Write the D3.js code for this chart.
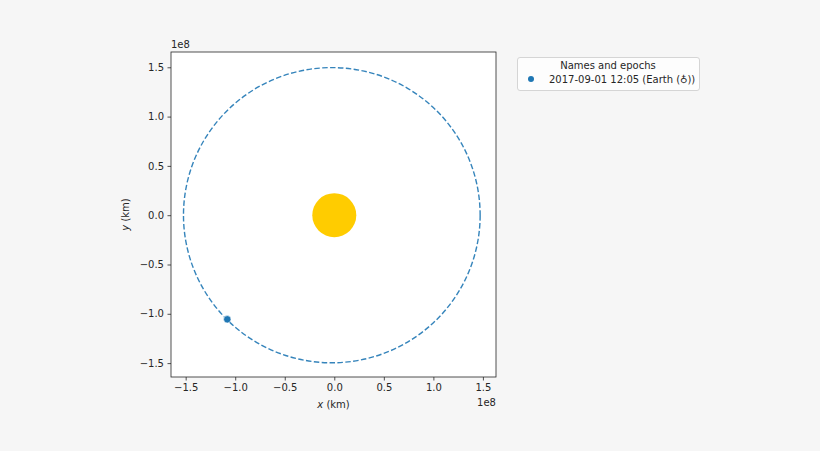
<!DOCTYPE html>
<html>
<head>
<meta charset="utf-8">
<script src="https://cdn.jsdelivr.net/npm/d3@7"></script>
<style>
  body { margin: 0; background: #f6f6f6; }
  svg { display: block; font-family: "DejaVu Sans", sans-serif; }
</style>
</head>
<body>
<svg id="chart" width="820" height="451"></svg>
<script>
// ticks (units of 1e8 km)
const x_ticks = [-1.5, -1.0, -0.5, 0.0, 0.5, 1.0, 1.5];
const y_ticks = [-1.5, -1.0, -0.5, 0.0, 0.5, 1.0, 1.5];
const tick_scale_label = '1e8';

// orbit, in km (perifocal frame, periapsis along +x)
const orbit_a = [1.497e8];
const orbit_ecc = [0.0167];
const attractor_radius = [2.22e7];
const body_positions = [[-1.080e8, -1.056e8]];
const legend_labels = ['2017-09-01 12:05 (Earth (\u2641))'];
const legend_title = 'Names and epochs';

const svg = d3.select('#chart');
const axLeft = 171, axRight = 496, axTop = 52, axBottom = 377;

const xScale = d3.scaleLinear().domain([-1.648e8, 1.632e8]).range([axLeft, axRight]);
const yScale = d3.scaleLinear().domain([-1.641e8, 1.655e8]).range([axBottom, axTop]);

const orbitColor = '#1f77b4';
const sunColor = '#ffcc00';
const textColor = '#262626';
const fontSize = 10;

// axes background
svg.append('rect')
    .attr('x', axLeft).attr('y', axTop)
    .attr('width', axRight - axLeft).attr('height', axBottom - axTop)
    .attr('fill', '#ffffff');

const plot = svg.append('g');

// attractor
plot.append('circle')
    .attr('cx', xScale(0))
    .attr('cy', yScale(0))
    .attr('r', xScale(attractor_radius[0]) - xScale(0))
    .attr('fill', sunColor);

// orbit ellipse, focus at origin
const a = orbit_a[0], e = orbit_ecc[0];
const b = a * Math.sqrt(1 - e * e);
plot.append('ellipse')
    .attr('cx', xScale(-a * e))
    .attr('cy', yScale(0))
    .attr('rx', xScale(a) - xScale(0))
    .attr('ry', yScale(0) - yScale(b))
    .attr('fill', 'none')
    .attr('stroke', orbitColor)
    .attr('stroke-opacity', 0.9)
    .attr('stroke-width', 1.4)
    .attr('stroke-dasharray', '5.5,2.4');

// body
plot.selectAll('circle.body')
    .data(body_positions)
    .enter()
    .append('circle')
    .attr('class', 'body')
    .attr('cx', d => xScale(d[0]))
    .attr('cy', d => yScale(d[1]))
    .attr('r', 3.7)
    .attr('fill', orbitColor)
    .attr('stroke', '#ffffff')
    .attr('stroke-width', 0.6);

// axes
const xAxis = svg.append('g')
    .attr('transform', `translate(0, ${axBottom})`)
    .call(d3.axisBottom(xScale).tickValues(x_ticks.map(t => t * 1e8))
        .tickFormat((d, i) => x_ticks[i].toFixed(1).replace('-', '\u2212'))
        .tickSize(3.5).tickPadding(3.5));
const yAxis = svg.append('g')
    .attr('transform', `translate(${axLeft}, 0)`)
    .call(d3.axisLeft(yScale).tickValues(y_ticks.map(t => t * 1e8))
        .tickFormat((d, i) => y_ticks[i].toFixed(1).replace('-', '\u2212'))
        .tickSize(3.5).tickPadding(3.5));
[xAxis, yAxis].forEach(ax => {
    ax.select('.domain').remove();
    ax.selectAll('.tick line').attr('stroke', textColor).attr('stroke-width', 0.8);
    ax.selectAll('.tick text')
        .attr('font-family', '"DejaVu Sans", sans-serif')
        .attr('font-size', fontSize)
        .attr('fill', textColor);
});

// frame
svg.append('rect')
    .attr('x', axLeft).attr('y', axTop)
    .attr('width', axRight - axLeft).attr('height', axBottom - axTop)
    .attr('fill', 'none')
    .attr('stroke', textColor)
    .attr('stroke-width', 0.8);

// offset labels
svg.append('text')
    .attr('x', axLeft).attr('y', axTop - 4)
    .attr('font-size', fontSize).attr('fill', textColor)
    .text(tick_scale_label);
svg.append('text')
    .attr('x', axRight).attr('y', axBottom + 29)
    .attr('text-anchor', 'end')
    .attr('font-size', fontSize).attr('fill', textColor)
    .text(tick_scale_label);

// axis labels
const xl = svg.append('text')
    .attr('x', (axLeft + axRight) / 2).attr('y', axBottom + 31)
    .attr('text-anchor', 'middle')
    .attr('font-size', fontSize).attr('fill', textColor);
xl.append('tspan').attr('font-style', 'italic').text('x');
xl.append('tspan').text(' (km)');

const yl = svg.append('text')
    .attr('transform', `translate(${axLeft - 42}, ${(axTop + axBottom) / 2}) rotate(-90)`)
    .attr('text-anchor', 'middle')
    .attr('font-size', fontSize).attr('fill', textColor);
yl.append('tspan').attr('font-style', 'italic').text('y');
yl.append('tspan').text(' (km)');

// legend
const legend = svg.append('g').attr('transform', 'translate(517, 57)');
legend.append('rect')
    .attr('x', 0.5).attr('y', 0.5)
    .attr('width', 182).attr('height', 33)
    .attr('rx', 2.5)
    .attr('fill', '#ffffff')
    .attr('fill-opacity', 0.8)
    .attr('stroke', '#cccccc')
    .attr('stroke-width', 0.8);
legend.append('text')
    .attr('x', 91).attr('y', 12)
    .attr('text-anchor', 'middle')
    .attr('font-size', fontSize).attr('fill', textColor)
    .text(legend_title);
const entries = legend.selectAll('g.entry')
    .data(legend_labels)
    .enter()
    .append('g')
    .attr('class', 'entry')
    .attr('transform', (d, i) => `translate(0, ${22 + i * 14})`);
entries.append('circle')
    .attr('cx', 14).attr('cy', 0)
    .attr('r', 3)
    .attr('fill', orbitColor);
entries.append('text')
    .attr('x', 32).attr('y', 3.5)
    .attr('font-size', fontSize).attr('fill', textColor)
    .text(d => d);
</script>
</body>
</html>
